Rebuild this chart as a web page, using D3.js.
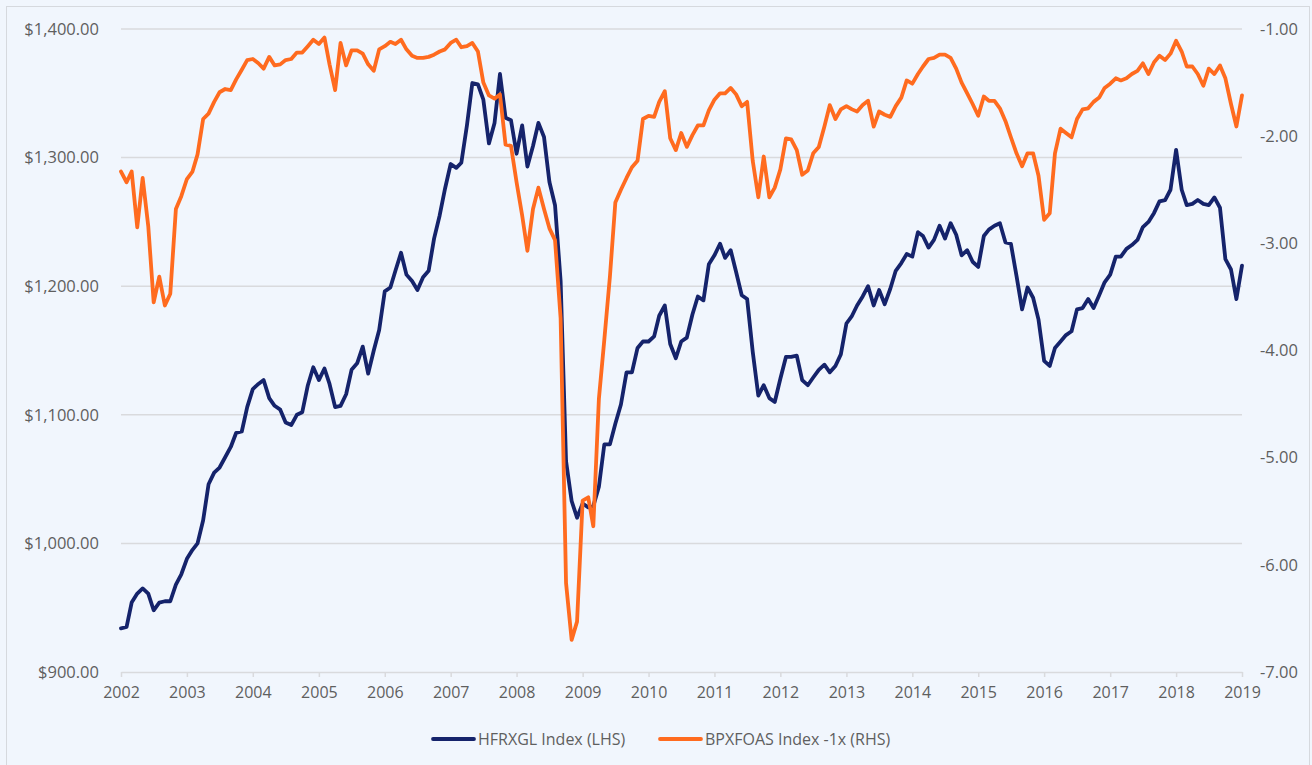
<!DOCTYPE html>
<html>
<head>
<meta charset="utf-8">
<script src="https://cdn.jsdelivr.net/npm/d3@7"></script>
<style>
  html, body { margin: 0; padding: 0; background: #f1f6fd; }
  svg { display: block; font-family: "Open Sans", sans-serif; }
</style>
</head>
<body>
<svg id="chart"></svg>
<script>
const width = 1312;
const height = 765;

// monthly values, Jan 2002 .. Jan 2019
const hfrxgl = [
  934, 935, 954, 961, 965, 961, 948, 954, 955, 955, 968, 976,
  988, 995, 1000, 1018, 1046, 1055, 1059, 1067, 1075, 1086, 1087, 1106,
  1120, 1124, 1127, 1113, 1107, 1104, 1094, 1092, 1100, 1102, 1123, 1137,
  1127, 1136, 1124, 1106, 1107, 1116, 1135, 1140, 1153, 1132, 1150, 1166,
  1196, 1199, 1212, 1226, 1209, 1204, 1197, 1207, 1212, 1237, 1255, 1276,
  1295, 1292, 1296, 1325, 1358, 1357, 1345, 1311, 1327, 1365, 1331, 1329,
  1303, 1325, 1293, 1309, 1327, 1316, 1281, 1263, 1204, 1064, 1033, 1020,
  1031, 1028, 1029, 1044, 1077, 1077, 1093, 1108, 1133, 1133, 1152, 1157,
  1157, 1161, 1177, 1185, 1155, 1144, 1157, 1160, 1178, 1192, 1189, 1217,
  1224, 1233, 1222, 1228, 1211, 1193, 1190, 1149, 1115, 1123, 1113, 1110,
  1128, 1145, 1145, 1146, 1127, 1123, 1129, 1135, 1139, 1133, 1138, 1147,
  1171, 1177, 1185, 1192, 1200, 1185, 1197, 1186, 1198, 1212, 1218, 1225,
  1223, 1242, 1239, 1230, 1236, 1247, 1237, 1249, 1240, 1224, 1228, 1219,
  1215, 1239, 1244, 1247, 1249, 1234, 1233, 1208, 1182, 1199, 1191, 1174,
  1142, 1138, 1152, 1157, 1162, 1165, 1182, 1183, 1190, 1183, 1193, 1203,
  1209, 1223, 1223, 1229, 1232, 1236, 1246, 1250, 1257, 1266, 1267, 1275,
  1306, 1275, 1263, 1264, 1267, 1264, 1263, 1269, 1261, 1221, 1213, 1190,
  1216
];

const bpxfoas = [
  -2.33, -2.43, -2.33, -2.85, -2.39, -2.84, -3.55, -3.31, -3.58, -3.47, -2.68, -2.56,
  -2.40, -2.33, -2.17, -1.84, -1.79, -1.68, -1.59, -1.56, -1.57, -1.47, -1.38, -1.29,
  -1.28, -1.32, -1.37, -1.26, -1.34, -1.33, -1.29, -1.28, -1.22, -1.22, -1.16, -1.10,
  -1.14, -1.08, -1.33, -1.57, -1.13, -1.34, -1.20, -1.20, -1.23, -1.33, -1.39, -1.19,
  -1.16, -1.12, -1.14, -1.10, -1.19, -1.25, -1.27, -1.27, -1.26, -1.24, -1.21, -1.19,
  -1.13, -1.10, -1.17, -1.16, -1.13, -1.21, -1.50, -1.62, -1.65, -1.61, -2.08, -2.09,
  -2.43, -2.74, -3.07, -2.68, -2.48, -2.68, -2.86, -2.97, -3.70, -6.17, -6.70, -6.53,
  -5.40, -5.37, -5.64, -4.45, -3.90, -3.31, -2.62, -2.50, -2.39, -2.29, -2.23, -1.84,
  -1.81, -1.82, -1.68, -1.58, -2.02, -2.13, -1.97, -2.10, -1.99, -1.90, -1.90, -1.76,
  -1.66, -1.60, -1.60, -1.55, -1.61, -1.72, -1.68, -2.23, -2.57, -2.19, -2.57, -2.48,
  -2.31, -2.02, -2.03, -2.13, -2.36, -2.32, -2.16, -2.10, -1.91, -1.71, -1.84, -1.75,
  -1.72, -1.75, -1.77, -1.71, -1.67, -1.91, -1.77, -1.80, -1.82, -1.72, -1.64, -1.48,
  -1.51, -1.42, -1.35, -1.28, -1.27, -1.24, -1.24, -1.27, -1.37, -1.50, -1.60, -1.70,
  -1.81, -1.63, -1.67, -1.67, -1.74, -1.86, -2.01, -2.16, -2.28, -2.16, -2.16, -2.37,
  -2.78, -2.72, -2.16, -1.93, -1.97, -2.01, -1.84, -1.75, -1.74, -1.68, -1.64, -1.55,
  -1.51, -1.46, -1.48, -1.46, -1.42, -1.39, -1.32, -1.42, -1.31, -1.25, -1.29, -1.23,
  -1.11, -1.21, -1.35, -1.35, -1.42, -1.53, -1.37, -1.42, -1.34, -1.46, -1.70, -1.91,
  -1.62
];

const years = d3.range(2002, 2020);
const leftTicks = [900, 1000, 1100, 1200, 1300, 1400];
const rightTicks = [-7, -6, -5, -4, -3, -2, -1];
const seriesNames = ["HFRXGL Index (LHS)", "BPXFOAS Index -1x (RHS)"];
const colors = ["#15236b", "#ff6b1f"];

const plot = { left: 121, right: 1242, top: 29, bottom: 672 };

const svg = d3.select("#chart").attr("width", width).attr("height", height);

svg.append("rect")
  .attr("x", 6.5).attr("y", 6.5)
  .attr("width", 1303).attr("height", 820)
  .attr("fill", "#f1f6fd")
  .attr("stroke", "#d6d9de");

const dates = hfrxgl.map((d, i) => new Date(2002, i, 1));

const x = d3.scaleTime()
  .domain([new Date(2002, 0, 1), new Date(2019, 0, 1)])
  .range([plot.left, plot.right]);

const yLeft = d3.scaleLinear().domain([900, 1400]).range([plot.bottom, plot.top]);
const yRight = d3.scaleLinear().domain([-7, -1]).range([plot.bottom, plot.top]);

// gridlines
svg.append("g")
  .selectAll("line")
  .data(leftTicks.slice(1))
  .join("line")
  .attr("x1", plot.left).attr("x2", plot.right)
  .attr("y1", (d) => yLeft(d)).attr("y2", (d) => yLeft(d))
  .attr("stroke", "#d9dadd")
  .attr("stroke-width", 1.5);

// x axis
const xAxis = svg.append("g")
  .attr("transform", `translate(0, ${plot.bottom})`)
  .call(d3.axisBottom(x)
    .tickValues(years.map((y) => new Date(y, 0, 1)))
    .tickFormat(d3.timeFormat("%Y"))
    .tickSize(5)
    .tickSizeOuter(0));
xAxis.select(".domain").attr("stroke", "#d9dadd").attr("stroke-width", 1.5);
xAxis.selectAll(".tick line").attr("stroke", "#d9dadd").attr("stroke-width", 1.5);
xAxis.selectAll(".tick text")
  .attr("y", 15)
  .attr("font-size", 16)
  .attr("font-family", "Open Sans, sans-serif")
  .attr("fill", "#5f5f5f");

// left axis
const leftAxis = svg.append("g")
  .attr("transform", `translate(${plot.left}, 0)`)
  .call(d3.axisLeft(yLeft)
    .tickValues(leftTicks)
    .tickFormat((d) => "$" + d3.format(",.2f")(d))
    .tickSize(0)
    .tickPadding(22));
leftAxis.select(".domain").remove();
leftAxis.selectAll(".tick text")
  .attr("font-size", 16.5)
  .attr("font-family", "Open Sans, sans-serif")
  .attr("fill", "#5f5f5f");

// right axis
const rightAxis = svg.append("g")
  .attr("transform", `translate(${plot.right}, 0)`)
  .call(d3.axisRight(yRight)
    .tickValues(rightTicks)
    .tickFormat((d) => d3.format(".2f")(d).replace("−", "-"))
    .tickSize(0)
    .tickPadding(18));
rightAxis.select(".domain").remove();
rightAxis.selectAll(".tick text")
  .attr("font-size", 16.5)
  .attr("font-family", "Open Sans, sans-serif")
  .attr("fill", "#5f5f5f");

// lines
const lineLeft = d3.line()
  .x((d, i) => x(dates[i]))
  .y((d) => yLeft(d));
const lineRight = d3.line()
  .x((d, i) => x(dates[i]))
  .y((d) => yRight(d));

svg.append("path")
  .datum(hfrxgl)
  .attr("d", lineLeft)
  .attr("fill", "none")
  .attr("stroke", colors[0])
  .attr("stroke-width", 3.8)
  .attr("stroke-linejoin", "round")
  .attr("stroke-linecap", "round");

svg.append("path")
  .datum(bpxfoas)
  .attr("d", lineRight)
  .attr("fill", "none")
  .attr("stroke", colors[1])
  .attr("stroke-width", 3.8)
  .attr("stroke-linejoin", "round")
  .attr("stroke-linecap", "round");

// legend
const legendItems = [
  { name: seriesNames[0], color: colors[0], x: 433 },
  { name: seriesNames[1], color: colors[1], x: 660 }
];
const legend = svg.append("g").attr("transform", "translate(0, 739)");
legendItems.forEach((d) => {
  legend.append("line")
    .attr("x1", d.x).attr("x2", d.x + 41)
    .attr("y1", 0).attr("y2", 0)
    .attr("stroke", d.color)
    .attr("stroke-width", 3.8)
    .attr("stroke-linecap", "round");
  legend.append("text")
    .attr("x", d.x + 45)
    .attr("y", 0)
    .attr("dy", "0.35em")
    .attr("font-size", 16)
    .attr("fill", "#5f5f5f")
    .text(d.name);
});
</script>
</body>
</html>
